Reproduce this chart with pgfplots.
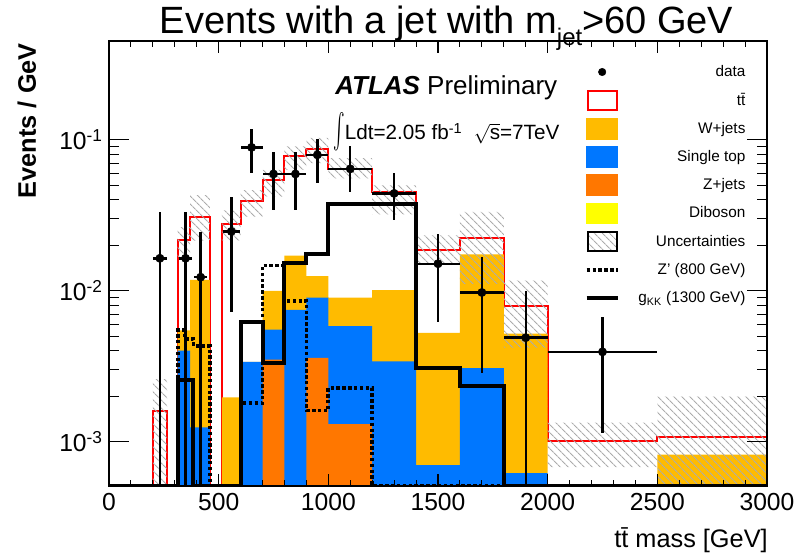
\documentclass[border=0pt]{standalone}
\usepackage{fontspec}
\setmainfont{Liberation Sans}
\usepackage{graphicx}
\usepackage{pgfplots}
\pgfplotsset{compat=1.18}
\usetikzlibrary{patterns.meta}
\definecolor{wj}{RGB}{255,187,0}
\definecolor{stp}{RGB}{0,119,255}
\definecolor{zj}{RGB}{255,119,0}
\definecolor{dib}{RGB}{255,255,0}
\begin{document}
\begin{tikzpicture}
\useasboundingbox (0pt,0pt) rectangle (605.25pt,420pt);
\begin{axis}[at={(81.75pt,55.5pt)}, anchor=south west, scale only axis,
  width=493.5pt, height=333.75pt,
  xmin=0, xmax=3000, ymode=log, ymin=5.1e-4, ymax=0.45,
  tick align=inside,
  every tick/.style={black, line width=0.8pt},
  ticklabel style={font=\fontsize{18.5}{20}\selectfont},
  axis on top,
  axis line style={line width=0.8pt},
  xtick={0,500,1000,1500,2000,2500,3000},
  xticklabels={0,500,1000,1500,2000,2500,3000},
  minor x tick num=4,
  ytick=\empty,
  major tick length=9pt, minor tick length=4.5pt,
  xticklabel style={inner sep=0pt, yshift=-5pt},
  legend cell align=right,
  legend style={at={(rel axis cs:0.9676,0.9627)}, anchor=north east,
    draw=none, fill=none, inner sep=0pt, row sep=0pt, column sep=14pt,
    font=\fontsize{11.5}{13}\selectfont, nodes={inner sep=0pt}},
]
% total (ttbar on top of stack)
\addplot[const plot, fill=white, draw=red, line width=1.5pt, forget plot] coordinates {
(200,4e-4) (200,1.6e-3) (265,4e-4) (313,0.0218) (370,0.0308) (460,4e-4)
(515,0.0278) (600,0.0392) (700,0.0541) (800,0.0782) (900,0.0867) (1000,0.064)
(1200,0.0453) (1400,0.0187) (1600,0.0223) (1800,7.94e-3) (2000,1.01e-3)
(2500,1.07e-3) (3000,1.07e-3) (3000,4e-4)};
% W+jets (cumulative)
\addplot[const plot, fill=wj, draw=none, forget plot] coordinates {
(313,4e-4) (313,5.47e-3) (370,0.0118) (460,4e-4) (515,1.97e-3) (600,3.38e-3)
(700,0.0100) (800,0.0171) (900,0.0125) (1000,9.0e-3) (1200,0.0101) (1400,5.27e-3)
(1600,0.0174) (1800,5.2e-3) (2000,4e-4) (2500,8.24e-4) (3000,8.24e-4) (3000,4e-4)};
% single top (cumulative)
\addplot[const plot, fill=stp, draw=none, forget plot] coordinates {
(313,4e-4) (313,4.02e-3) (370,1.245e-3) (460,4e-4) (600,3.38e-3) (700,5.52e-3)
(800,7.47e-3) (900,9.0e-3) (1000,5.84e-3) (1200,3.41e-3) (1400,7.0e-4)
(1600,3.08e-3) (1800,6.2e-4) (2000,4e-4) (3000,4e-4)};
% Z+jets
\addplot[const plot, fill=zj, draw=none, forget plot] coordinates {
(700,4e-4) (700,3.5e-3) (800,4e-4) (900,3.6e-3) (1000,1.31e-3) (1200,4e-4) (3000,4e-4)};
% uncertainty band
\addplot[pattern={Lines[angle=-45,distance=4pt,line width=0.9pt]}, pattern color=gray!65, draw=none, forget plot] coordinates {
(200,4e-4) (200,2.6e-3) (265,2.6e-3) (265,4e-4)};
\addplot[pattern={Lines[angle=-45,distance=4pt,line width=0.9pt]}, pattern color=gray!65, draw=none, forget plot] coordinates {
(313,0.0264) (370,0.0264) (370,0.043) (460,0.043) (460,0.0215) (370,0.0215) (370,0.0167) (313,0.0167)};
\addplot[pattern={Lines[angle=-45,distance=4pt,line width=0.9pt]}, pattern color=gray!65, draw=none, forget plot] coordinates {
(515,0.0341) (600,0.0341) (600,0.0464) (700,0.0464) (700,0.0631) (800,0.0631)
(800,0.0903) (900,0.0903) (900,0.1026) (1000,0.1026) (1000,0.0755) (1200,0.0755)
(1200,0.0501) (1400,0.0501) (1400,0.0233) (1600,0.0233) (1600,0.0333) (1800,0.0333)
(1800,0.0117) (2000,0.0117) (2000,1.34e-3) (2500,1.34e-3) (2500,2.0e-3) (3000,2.0e-3)
(3000,4e-4) (2500,4e-4) (2500,6.8e-4) (2000,6.8e-4) (2000,0.0042) (1800,0.0042)
(1800,0.0111) (1600,0.0111) (1600,0.0150) (1400,0.0150) (1400,0.032) (1200,0.032)
(1200,0.0555) (1000,0.0555) (1000,0.070) (900,0.070) (900,0.063) (800,0.063)
(800,0.042) (700,0.042) (700,0.0308) (600,0.0308) (600,0.0215) (515,0.0215)};
% Z' (800 GeV)
\addplot[const plot, black, line width=2.8pt, dash pattern=on 2.6pt off 1.8pt, forget plot] coordinates {
(0,5.1e-4) (313,5.47e-3) (345,4.8e-3) (385,4.3e-3) (460,5.1e-4) (600,1.8e-3)
(700,0.0147) (800,8.58e-3) (900,1.61e-3) (1000,2.27e-3) (1200,5.1e-4) (3000,5.1e-4)};
% g_KK (1300 GeV)
\addplot[const plot, black, line width=3pt, forget plot] coordinates {
(0,5.1e-4) (313,2.58e-3) (385,5.1e-4) (600,6.25e-3) (700,3.33e-3) (800,0.0153)
(900,0.0174) (1000,0.0378) (1400,3.08e-3) (1600,2.33e-3) (1800,5.1e-4) (3000,5.1e-4)};
% data
\addplot[only marks, mark=*, mark size=3.1pt, black, forget plot,
  error bars/.cd, x dir=both, x explicit, y dir=both, y explicit,
  error mark=none, error bar style={line width=1.8pt, black}]
  table[x=x, y=y, x error=ex, y error plus=eyp, y error minus=eym] {
x y ex eyp eym
232 0.0164 32 0.0169 0.0161
349 0.0164 30 0.0169 0.0161
418 0.0123 30 0.0122 0.0120
558 0.0247 40 0.0172 0.0175
650 0.0889 50 0.0291 0.0289
750 0.0593 50 0.0242 0.0248
850 0.0593 50 0.0242 0.0248
950 0.0794 50 0.0216 0.0280
1100 0.0641 100 0.0262 0.0188
1300 0.0441 100 0.0159 0.0149
1500 0.0151 100 0.0088 0.00886
1700 0.00974 100 0.00696 0.00689
1900 0.00489 100 0.00501 0.00459
2250 0.00394 250 0.0028 0.0028
};
% legend
\addlegendimage{legend image code/.code={\path[draw=none,fill=none] (0pt,-10.6pt) rectangle (23.25pt,10.6pt); \fill[black] (11.6pt,0pt) circle (2.8pt);}}
\addlegendentry{data}
\addlegendimage{legend image code/.code={\path[draw=none,fill=none] (0pt,-10.6pt) rectangle (23.25pt,10.6pt); \draw[red,line width=1.5pt,fill=white] (0.75pt,-7.1pt) rectangle (22.5pt,7.1pt);}}
\addlegendentry{t\={t}}
\addlegendimage{legend image code/.code={\path[draw=none,fill=none] (0pt,-10.6pt) rectangle (23.25pt,10.6pt); \fill[wj] (0pt,-7.8pt) rectangle (23.25pt,7.8pt);}}
\addlegendentry{W+jets}
\addlegendimage{legend image code/.code={\path[draw=none,fill=none] (0pt,-10.6pt) rectangle (23.25pt,10.6pt); \fill[stp] (0pt,-7.8pt) rectangle (23.25pt,7.8pt);}}
\addlegendentry{Single top}
\addlegendimage{legend image code/.code={\path[draw=none,fill=none] (0pt,-10.6pt) rectangle (23.25pt,10.6pt); \fill[zj] (0pt,-7.8pt) rectangle (23.25pt,7.8pt);}}
\addlegendentry{Z+jets}
\addlegendimage{legend image code/.code={\path[draw=none,fill=none] (0pt,-10.6pt) rectangle (23.25pt,10.6pt); \fill[dib] (0pt,-7.8pt) rectangle (23.25pt,7.8pt);}}
\addlegendentry{Diboson}
\addlegendimage{legend image code/.code={\path[draw=none,fill=none] (0pt,-10.6pt) rectangle (23.25pt,10.6pt); \fill[pattern={Lines[angle=-45,distance=4pt,line width=0.9pt]},pattern color=gray!65] (0.75pt,-7.1pt) rectangle (22.5pt,7.1pt); \draw[black,line width=1.5pt,fill=none] (0.75pt,-7.1pt) rectangle (22.5pt,7.1pt);}}
\addlegendentry{Uncertainties}
\addlegendimage{legend image code/.code={\path[draw=none,fill=none] (0pt,-10.6pt) rectangle (23.25pt,10.6pt); \draw[black,line width=2.8pt,dash pattern=on 2.6pt off 1.8pt] (0pt,0pt) -- (23.25pt,0pt);}}
\addlegendentry{Z' (800 GeV)}
\addlegendimage{legend image code/.code={\path[draw=none,fill=none] (0pt,-10.6pt) rectangle (23.25pt,10.6pt); \draw[black,line width=3pt] (0pt,0pt) -- (23.25pt,0pt);}}
\addlegendentry{g\textsubscript{KK} (1300 GeV)}
\end{axis}
\begin{axis}[at={(81.75pt,55.5pt)}, anchor=south west, scale only axis,
  width=493.5pt, height=333.75pt,
  xmin=0, xmax=3000, ymode=log, ymin=5.1e-4, ymax=0.45,
  tick align=inside,
  every tick/.style={black, line width=0.8pt},
  ticklabel style={font=\fontsize{18.5}{20}\selectfont},
  axis line style={draw=none}, xtick=\empty, minor x tick num=0,
  ytick={1e-3,1e-2,1e-1},
  yticklabels={10\textsuperscript{-3},10\textsuperscript{-2},10\textsuperscript{-1}},
  major tick length=15pt, minor tick length=7.5pt,
  yticklabel style={inner sep=0pt, xshift=-4.5pt}]
\addplot[draw=none, forget plot] coordinates {(1000,0.01)};
\end{axis}
\node[anchor=base, inner sep=0pt] at (335pt,394.5pt) {\fontsize{28.5}{30}\selectfont Events with a jet with m\raisebox{-9pt}{\fontsize{18}{18}\selectfont jet}>60 GeV};
\node[rotate=90, anchor=east, inner sep=0pt] at (20.25pt,387.75pt) {\fontsize{19}{20}\selectfont\bfseries Events / GeV};
\node[anchor=base east, inner sep=0pt] at (576pt,9pt) {\fontsize{19}{20}\selectfont t\={t} mass [GeV]};
\node[anchor=base west, inner sep=0pt] at (251.25pt,348.75pt) {\fontsize{19.5}{20}\selectfont\bfseries\itshape ATLAS\ \normalfont Preliminary};
\node[anchor=base west, inner sep=0pt] at (249.75pt,315pt) {\fontsize{15.5}{16}\selectfont \raisebox{-3pt}{\scalebox{1.3}[2.6]{$\int$}}Ldt=2.05 fb\textsuperscript{-1}\ \ $\sqrt{\mbox{s}}$=7TeV};
\end{tikzpicture}
\end{document}
